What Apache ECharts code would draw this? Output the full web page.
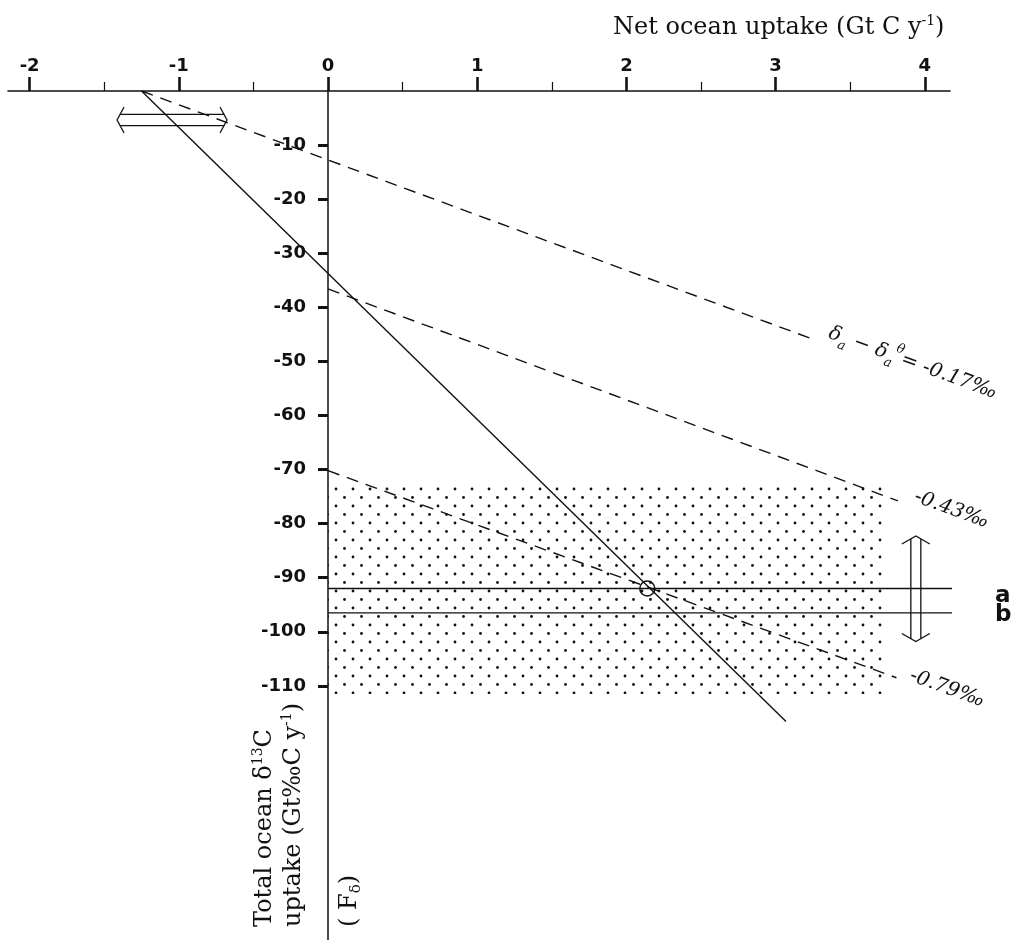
<!DOCTYPE html>
<html><head><meta charset="utf-8">
<script src="https://cdn.jsdelivr.net/npm/echarts@6/dist/echarts.min.js"></script>
<style>html,body{margin:0;padding:0;background:#fff}#c{width:1016px;height:940px}</style>
</head><body><div id="c"></div>
<script>
// ---- data ----
const xTickValues = [-2, -1, 0, 1, 2, 3, 4];
const xMinorTickValues = [-1.5, -0.5, 0.5, 1.5, 2.5, 3.5];
const yTickValues = [-10, -20, -30, -40, -50, -60, -70, -80, -90, -100, -110];
const solidLine = [[-1.25, 0], [3.07, -116.6]];
const dashed017 = [[-1.25, 0], [3.26, -46.0]];
const dashed043 = [[0, -36.6], [3.82, -75.8]];
const dashed079 = [[0, -70.2], [3.81, -108.5]];
const lineA = [[0, -92.0], [4.37, -92.0]];
const lineB = [[0, -96.5], [4.40, -96.5]];
const crossing = [[2.14, -92.0]];
const shadedX = [0, 3.72];
const shadedY = [-72.6, -111.5];
const rangeArrows = [[-1.414, -5.36, -0.677, -5.36], [3.94, -82.3, 3.94, -101.8]];
const lineLabelPos = [[3.92, -50.3], [4.18, -77.4], [4.15, -110.5]];
const lineLabelText = ['{i|δ}{sb|a}{i| − δ}{sb|a}{sp|θ}{i|= -0.17‰}', '{i|-0.43‰}', '{i|-0.79‰}'];
const abLabelPos = [[4.47, -93.3], [4.47, -96.9]];
const abLabelText = ['a', 'b'];

// dotted fill pattern
const dot = document.createElement('canvas');
dot.width = 17; dot.height = 17;
(function () {
  const g = dot.getContext('2d');
  g.fillStyle = '#111';
  g.beginPath(); g.arc(4.5, 4.5, 1.4, 0, Math.PI * 2); g.fill();
  g.beginPath(); g.arc(13, 13, 1.4, 0, Math.PI * 2); g.fill();
})();

const INK = '#111';
const dash = [12, 8];

function renderArrow(params, api) {
  const p1 = api.coord([api.value(0), api.value(1)]);
  const p2 = api.coord([api.value(2), api.value(3)]);
  const st = { stroke: INK, lineWidth: 1.3, fill: null };
  const horiz = Math.abs(p2[0] - p1[0]) > Math.abs(p2[1] - p1[1]);
  let ch;
  if (horiz) {
    const L = Math.min(p1[0], p2[0]), R = Math.max(p1[0], p2[0]), y = p1[1];
    const g = 5.6, d = 7, w = 13;
    ch = [
      { type: 'polyline', shape: { points: [[L + d, y - w], [L, y], [L + d, y + w]] }, style: st },
      { type: 'polyline', shape: { points: [[R - d, y - w], [R, y], [R - d, y + w]] }, style: st },
      { type: 'line', shape: { x1: L + 3, y1: y - g, x2: R - 3, y2: y - g }, style: st },
      { type: 'line', shape: { x1: L + 3, y1: y + g, x2: R - 3, y2: y + g }, style: st }
    ];
  } else {
    const T = Math.min(p1[1], p2[1]), B = Math.max(p1[1], p2[1]), x = p1[0];
    const g = 5, d = 8, w = 14;
    ch = [
      { type: 'polyline', shape: { points: [[x - w, T + d], [x, T], [x + w, T + d]] }, style: st },
      { type: 'polyline', shape: { points: [[x - w, B - d], [x, B], [x + w, B - d]] }, style: st },
      { type: 'line', shape: { x1: x - g, y1: T + 3, x2: x - g, y2: B - 3 }, style: st },
      { type: 'line', shape: { x1: x + g, y1: T + 3, x2: x + g, y2: B - 3 }, style: st }
    ];
  }
  return { type: 'group', children: ch };
}

function lineSeries(data, type, extra) {
  return Object.assign({
    type: 'line', data: data, symbol: 'none', silent: true,
    lineStyle: { color: INK, width: 1.4, type: type }, itemStyle: { color: INK }
  }, extra || {});
}

const serif = '"DejaVu Serif", serif';
const tickFont = { fontFamily: '"DejaVu Sans", sans-serif', fontSize: 18, fontWeight: 'bold', color: INK };

// x range chosen so the axis spans the same width as in the reference
const xMin = -2.145, xMax = 4.169;
const gridLeft = 8, gridRight = 66;
const plotWidth = 1016 - gridLeft - gridRight;
const yAxisOffset = -(0 - xMin) / (xMax - xMin) * plotWidth; // puts the y axis at x = 0

const chart = echarts.init(document.getElementById('c'), null, { renderer: 'canvas' });
chart.setOption({
  animation: false,
  backgroundColor: '#fff',
  grid: { left: gridLeft, right: gridRight, top: 91, bottom: 0, containLabel: false, outerBoundsMode: 'none' },
  xAxis: [{
    type: 'value', position: 'top', min: xMin, max: xMax,
    axisLine: { show: true, onZero: false, lineStyle: { color: INK, width: 1.6 } },
    axisTick: { show: true, inside: false, length: 14, customValues: xTickValues, lineStyle: { color: INK, width: 2.6 } },
    axisLabel: Object.assign({ show: true, customValues: xTickValues, margin: 16 }, tickFont),
    splitLine: { show: false }
  }, {
    type: 'value', position: 'top', min: xMin, max: xMax, offset: 0,
    axisLine: { show: false, onZero: false },
    axisTick: { show: true, inside: false, length: 9, customValues: xMinorTickValues, lineStyle: { color: INK, width: 1.2 } },
    axisLabel: { show: false },
    splitLine: { show: false }
  }],
  yAxis: {
    type: 'value', position: 'left', min: -157, max: 0, offset: yAxisOffset,
    axisLine: { show: true, onZero: false, lineStyle: { color: INK, width: 1.5 } },
    axisTick: { show: true, inside: false, length: 10, customValues: yTickValues, lineStyle: { color: INK, width: 3 } },
    axisLabel: Object.assign({ show: true, customValues: yTickValues, margin: 22, hideOverlap: false }, tickFont),
    splitLine: { show: false }
  },
  series: [
    {
      type: 'line', data: [], silent: true,
      markArea: {
        silent: true,
        itemStyle: { color: { image: dot, repeat: 'repeat' }, borderWidth: 0 },
        data: [[{ coord: [shadedX[0], shadedY[0]] }, { coord: [shadedX[1], shadedY[1]] }]]
      }
    },
    lineSeries(solidLine, 'solid'),
    lineSeries(dashed017, dash),
    lineSeries(dashed043, dash),
    lineSeries(dashed079, dash),
    lineSeries(lineA, 'solid', { clip: false }),
    lineSeries(lineB, 'solid', { clip: false }),
    {
      type: 'scatter', data: crossing, symbol: 'circle', symbolSize: 15, silent: true,
      itemStyle: { color: 'rgba(0,0,0,0)', borderColor: INK, borderWidth: 1.5, opacity: 1 }
    },
    { type: 'custom', data: rangeArrows, renderItem: renderArrow, silent: true, clip: false },
    {
      type: 'scatter', symbolSize: 0, silent: true, clip: false,
      itemStyle: { opacity: 1, color: INK },
      data: lineLabelPos.map((p, i) => ({ value: p, label: { formatter: lineLabelText[i] } })),
      label: {
        show: true, position: 'inside', rotate: -20, color: INK,
        rich: {
          i: { fontFamily: serif, fontStyle: 'italic', fontSize: 20, lineHeight: 30, color: INK },
          sb: { fontFamily: serif, fontStyle: 'italic', fontSize: 13, lineHeight: 16, verticalAlign: 'bottom', color: INK },
          sp: { fontFamily: serif, fontStyle: 'italic', fontSize: 13, lineHeight: 16, verticalAlign: 'top', color: INK }
        }
      }
    },
    {
      type: 'scatter', symbolSize: 0, silent: true, clip: false,
      itemStyle: { opacity: 1, color: INK },
      data: abLabelPos.map((p, i) => ({ value: p, label: { formatter: abLabelText[i] } })),
      label: {
        show: true, position: 'inside', align: 'left', verticalAlign: 'middle',
        fontFamily: '"DejaVu Sans", sans-serif', fontWeight: 'bold', fontSize: 23, color: INK
      }
    }
  ],
  graphic: [
    {
      type: 'text', x: 613, y: 28, silent: true,
      style: {
        text: 'Net ocean uptake (Gt C y{sp|-1})', font: '24px ' + serif, fill: INK,
        align: 'left', textAlign: 'left', verticalAlign: 'middle', textVerticalAlign: 'middle', lineHeight: 28,
        rich: { sp: { fontSize: 14, fontFamily: serif, lineHeight: 14, verticalAlign: 'top', fill: INK } }
      }
    },
    {
      type: 'text', x: 265, y: 927, rotation: Math.PI / 2, silent: true,
      style: {
        text: 'Total ocean δ{sp|13}C', font: '24px ' + serif, fill: INK,
        align: 'left', textAlign: 'left', verticalAlign: 'middle', textVerticalAlign: 'middle', lineHeight: 28,
        rich: { sp: { fontSize: 14, fontFamily: serif, lineHeight: 14, verticalAlign: 'top', fill: INK } }
      }
    },
    {
      type: 'text', x: 294, y: 927, rotation: Math.PI / 2, silent: true,
      style: {
        text: 'uptake (Gt‰C y{sp|-1})', font: '24px ' + serif, fill: INK,
        align: 'left', textAlign: 'left', verticalAlign: 'middle', textVerticalAlign: 'middle', lineHeight: 28,
        rich: { sp: { fontSize: 14, fontFamily: serif, lineHeight: 14, verticalAlign: 'top', fill: INK } }
      }
    },
    {
      type: 'text', x: 350, y: 927, rotation: Math.PI / 2, silent: true,
      style: {
        text: '( F{sb|δ})', font: '24px ' + serif, fill: INK,
        align: 'left', textAlign: 'left', verticalAlign: 'middle', textVerticalAlign: 'middle', lineHeight: 28,
        rich: { sb: { fontSize: 15, fontFamily: serif, lineHeight: 14, verticalAlign: 'bottom', fill: INK } }
      }
    }
  ]
});
</script>
</body></html>
